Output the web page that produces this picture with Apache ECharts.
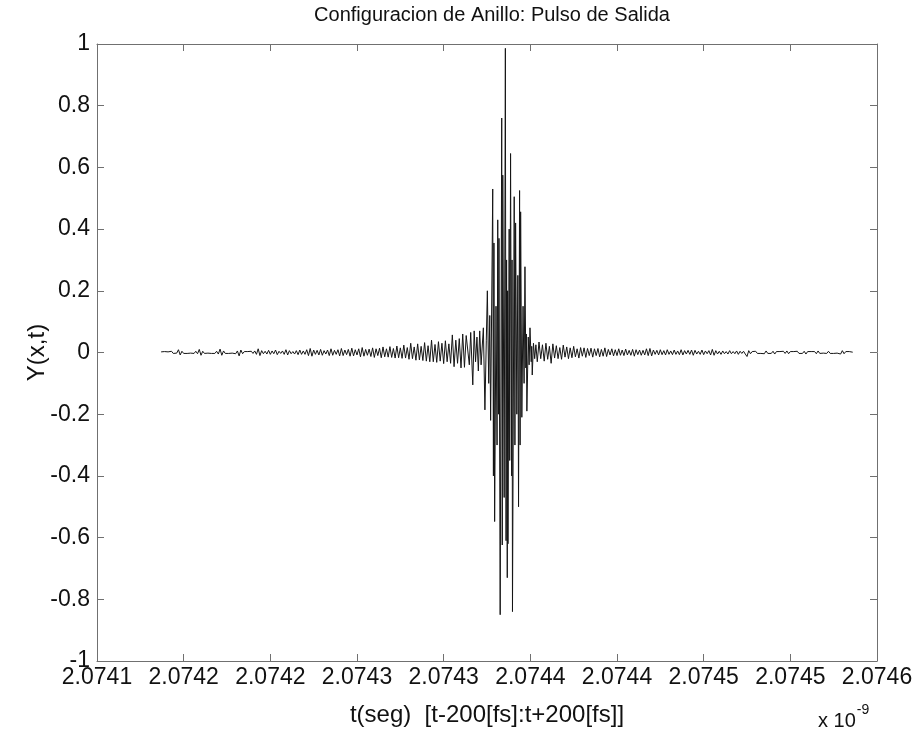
<!DOCTYPE html>
<html>
<head>
<meta charset="utf-8">
<script src="https://cdn.jsdelivr.net/npm/echarts@6/dist/echarts.min.js"></script>
<style>
html,body{margin:0;padding:0;background:#fff;}
#chart{width:917px;height:736px;}
</style>
</head>
<body>
<div id="chart"></div>
<script>
// ---- Data (time in fs from the left edge of the axis, amplitude Y(x,t)) ----
var xTickLabels = ['2.0741','2.0742','2.0742','2.0743','2.0743','2.0744','2.0744','2.0745','2.0745','2.0746'];
var yTickValues = [-1,-0.8,-0.6,-0.4,-0.2,0,0.2,0.4,0.6,0.8,1];

// left tail samples: start 37 fs, 1 fs sampling
var leftStart = 37;
var sampleStep = 1;
var leftValues = [
0.002,-0.002,0.003,-0.003,0.002,-0.002,0.004,-0.003,0.003,-0.002,
0.009,-0.008,0.004,-0.003,0.002,-0.003,0.003,-0.002,0.003,-0.003,
0.004,-0.004,0.010,-0.009,0.004,-0.003,0.002,-0.002,0.003,-0.003,
0.003,-0.003,0.004,-0.005,0.011,-0.009,0.005,-0.003,0.002,-0.003,
0.003,-0.002,0.003,-0.004,0.005,-0.011,0.008,-0.004,0.003,-0.002,
0.003,-0.003,0.004,-0.003,0.005,-0.006,0.012,-0.010,0.006,-0.004,
0.004,-0.005,0.007,-0.006,0.005,-0.004,0.008,-0.007,0.004,-0.003,
0.005,-0.006,0.009,-0.008,0.006,-0.004,0.003,-0.005,0.006,-0.007,
0.008,-0.006,0.005,-0.006,0.009,-0.010,0.013,-0.012,0.008,-0.006,
0.007,-0.008,0.010,-0.009,0.006,-0.005,0.008,-0.010,0.012,-0.009,
0.007,-0.006,0.009,-0.011,0.013,-0.010,0.008,-0.007,0.010,-0.012,
0.014,-0.011,0.009,-0.008,0.012,-0.014,0.016,-0.012,0.010,-0.009,
0.011,-0.013,0.015,-0.016,0.012,-0.010,0.014,-0.017,0.018,-0.014,
0.012,-0.015,0.019,-0.016,0.013,-0.018,0.021,-0.017,0.015,-0.019,
0.024,-0.018,0.016,-0.022,0.030,-0.020,0.018,-0.025,0.028,-0.024,
0.020,-0.026,0.032,-0.028,0.022,-0.030,0.040,-0.030,0.026,-0.032,
0.035,-0.028,0.030,-0.036,0.038,-0.030,0.028,-0.035,0.057,-0.046,
0.040,-0.035,0.045,-0.050,0.060,-0.048,0.055
];

// central burst: explicit sample times (fs) and values
var burstTimes = [214.0,214.8,215.6,216.8,217.6,218.4,219.2,220.0,220.8,221.6,222.9,223.8,224.6,225.2,226.0,226.6,227.1,228.3,228.7,229.0,229.4,230.2,230.8,231.2,231.6,231.9,232.6,233.5,233.8,234.1,234.9,235.6,236.0,236.3,236.7,236.9,237.1,237.8,238.1,238.6,239.2,239.45,239.7,240.7,241.1,241.5,242.2,242.8,243.2,243.8,244.1,244.4,245.1,245.8,246.4,246.9,247.4,247.7,248.0,248.8,249.3,249.8,250.5,250.8,251.1,251.8,252.5,253.2];
var burstValues = [0.05,-0.04,0.065,-0.105,0.07,-0.03,0.05,-0.06,0.07,-0.04,0.08,-0.186,0.04,0.20,-0.10,0.12,-0.22,0.53,-0.40,0.355,-0.548,0.15,-0.30,0.43,-0.20,0.37,-0.85,0.76,-0.624,0.575,-0.47,0.986,-0.61,0.30,-0.73,0.20,-0.62,0.40,-0.35,0.645,-0.40,0.30,-0.84,0.505,-0.30,0.42,-0.20,0.25,-0.50,0.525,-0.30,0.456,-0.21,0.15,-0.10,0.278,-0.05,0.06,-0.19,0.05,-0.04,0.08,-0.03,0.02,-0.073,0.03,-0.02,0.025];

// right tail samples: start 254 fs, 1 fs sampling
var rightStart = 254;
var rightValues = [
-0.030,0.034,-0.020,0.025,-0.028,0.030,-0.022,0.020,-0.035,0.028,
-0.018,0.022,-0.020,0.016,-0.022,0.024,-0.015,0.018,-0.020,0.015,
-0.017,0.020,-0.014,0.012,-0.018,0.016,-0.012,0.015,-0.016,0.013,
-0.010,0.014,-0.015,0.012,-0.010,0.013,-0.014,0.010,-0.012,0.015,
-0.013,0.010,-0.008,0.012,-0.011,0.009,-0.010,0.012,-0.009,0.008,
-0.010,0.011,-0.008,0.007,-0.009,0.010,-0.012,0.009,-0.007,0.008,
-0.009,0.007,-0.008,0.012,-0.010,0.013,-0.011,0.008,-0.006,0.007,
-0.008,0.009,-0.007,0.006,-0.008,0.009,-0.006,0.005,-0.007,0.008,
-0.006,0.005,-0.007,0.009,-0.008,0.006,-0.005,0.007,-0.006,0.008,
-0.009,0.007,-0.005,0.004,-0.006,0.008,-0.007,0.005,-0.004,0.006,
-0.008,0.010,-0.009,0.006,-0.005,0.004,-0.006,0.005,-0.004,0.003,
-0.005,0.006,-0.004,0.003,-0.004,0.005,-0.006,0.004,-0.003,0.004,
-0.005,-0.013,0.006,-0.004,0.003,-0.003,0.004,-0.003,0.002,-0.003,
0.003,-0.004,0.005,-0.003,0.002,-0.003,0.004,-0.005,0.003,-0.002,
0.003,-0.002,0.004,-0.003,0.005,-0.004,0.003,-0.002,0.003,-0.003,
0.004,-0.003,0.002,-0.003,0.004,-0.005,0.003,-0.002,0.003,-0.002,
0.003,-0.004,0.005,-0.003,0.002,-0.002,0.003,-0.003,0.004,-0.003,
0.002,-0.003,0.003,-0.002,0.004,-0.005,0.006,-0.004,0.003,-0.002,
0.003,-0.002,0.001
];

// ---- Build series data ----
var seriesData = [];
leftValues.forEach(function (v, i) { seriesData.push([leftStart + i * sampleStep, v]); });
burstValues.forEach(function (v, i) { seriesData.push([burstTimes[i], v]); });
rightValues.forEach(function (v, i) { seriesData.push([rightStart + i * sampleStep, v]); });

var FONT = '"Liberation Sans", Arial, Helvetica, sans-serif';
var AXIS_COLOR = '#707070';
var TEXT_COLOR = '#111111';

var chart = echarts.init(document.getElementById('chart'), null, {renderer: 'canvas'});

var xCommon = {
  type: 'value', min: 0, max: 450, interval: 50,
  axisLine: {show: true, onZero: false, lineStyle: {color: AXIS_COLOR, width: 1}},
  axisTick: {show: true, inside: true, length: 7, lineStyle: {color: AXIS_COLOR}},
  splitLine: {show: false}
};
var yCommon = {
  type: 'value', min: -1, max: 1, interval: 0.2,
  axisLine: {show: true, onZero: false, lineStyle: {color: AXIS_COLOR, width: 1}},
  axisTick: {show: true, inside: true, length: 7, lineStyle: {color: AXIS_COLOR}},
  splitLine: {show: false}
};

chart.setOption({
  animation: false,
  backgroundColor: '#ffffff',
  title: {
    text: 'Configuracion de Anillo: Pulso de Salida',
    left: 487, top: 0, textAlign: 'center',
    textStyle: {fontFamily: FONT, fontSize: 20, fontWeight: 'normal', color: TEXT_COLOR}
  },
  grid: {left: 97, right: 40, top: 44, bottom: 75, containLabel: false},
  xAxis: [
    Object.assign({}, xCommon, {
      position: 'bottom',
      name: 't(seg)  [t-200[fs]:t+200[fs]]',
      nameLocation: 'middle', nameGap: 42,
      nameTextStyle: {fontFamily: FONT, fontSize: 24, color: TEXT_COLOR},
      axisLabel: {
        show: true, margin: 5, fontFamily: FONT, fontSize: 23, color: TEXT_COLOR,
        formatter: function (v) { return xTickLabels[Math.round(v / 50)] || ''; }
      }
    }),
    Object.assign({}, xCommon, {position: 'top', axisLabel: {show: false}})
  ],
  yAxis: [
    Object.assign({}, yCommon, {
      position: 'left',
      name: 'Y(x,t)', nameLocation: 'middle', nameGap: 48, nameRotate: 90,
      nameMoveOverlap: false,
      nameTextStyle: {fontFamily: FONT, fontSize: 24, color: TEXT_COLOR},
      axisLabel: {
        show: true, margin: 7, fontFamily: FONT, fontSize: 23, color: TEXT_COLOR,
        formatter: function (v) {
          var r = Math.round(v * 10) / 10;
          for (var k = 0; k < yTickValues.length; k++) {
            if (Math.abs(yTickValues[k] - r) < 1e-9) return String(yTickValues[k]);
          }
          return '';
        }
      }
    }),
    Object.assign({}, yCommon, {position: 'right', axisLabel: {show: false}})
  ],
  graphic: [{
    type: 'text', left: 818, top: 703,
    style: {
      text: '{a|x 10}{s|-9}',
      rich: {
        a: {fontFamily: FONT, fontSize: 20, fill: TEXT_COLOR, verticalAlign: 'bottom', lineHeight: 28},
        s: {fontFamily: FONT, fontSize: 14, fill: TEXT_COLOR, verticalAlign: 'top', lineHeight: 28, padding: [0, 0, 14, 1]}
      }
    }
  }],
  series: [{
    type: 'line',
    xAxisIndex: 0, yAxisIndex: 0,
    data: seriesData,
    showSymbol: false,
    symbol: 'none',
    lineStyle: {color: '#151515', width: 1},
    silent: true
  }]
});
</script>
</body>
</html>
